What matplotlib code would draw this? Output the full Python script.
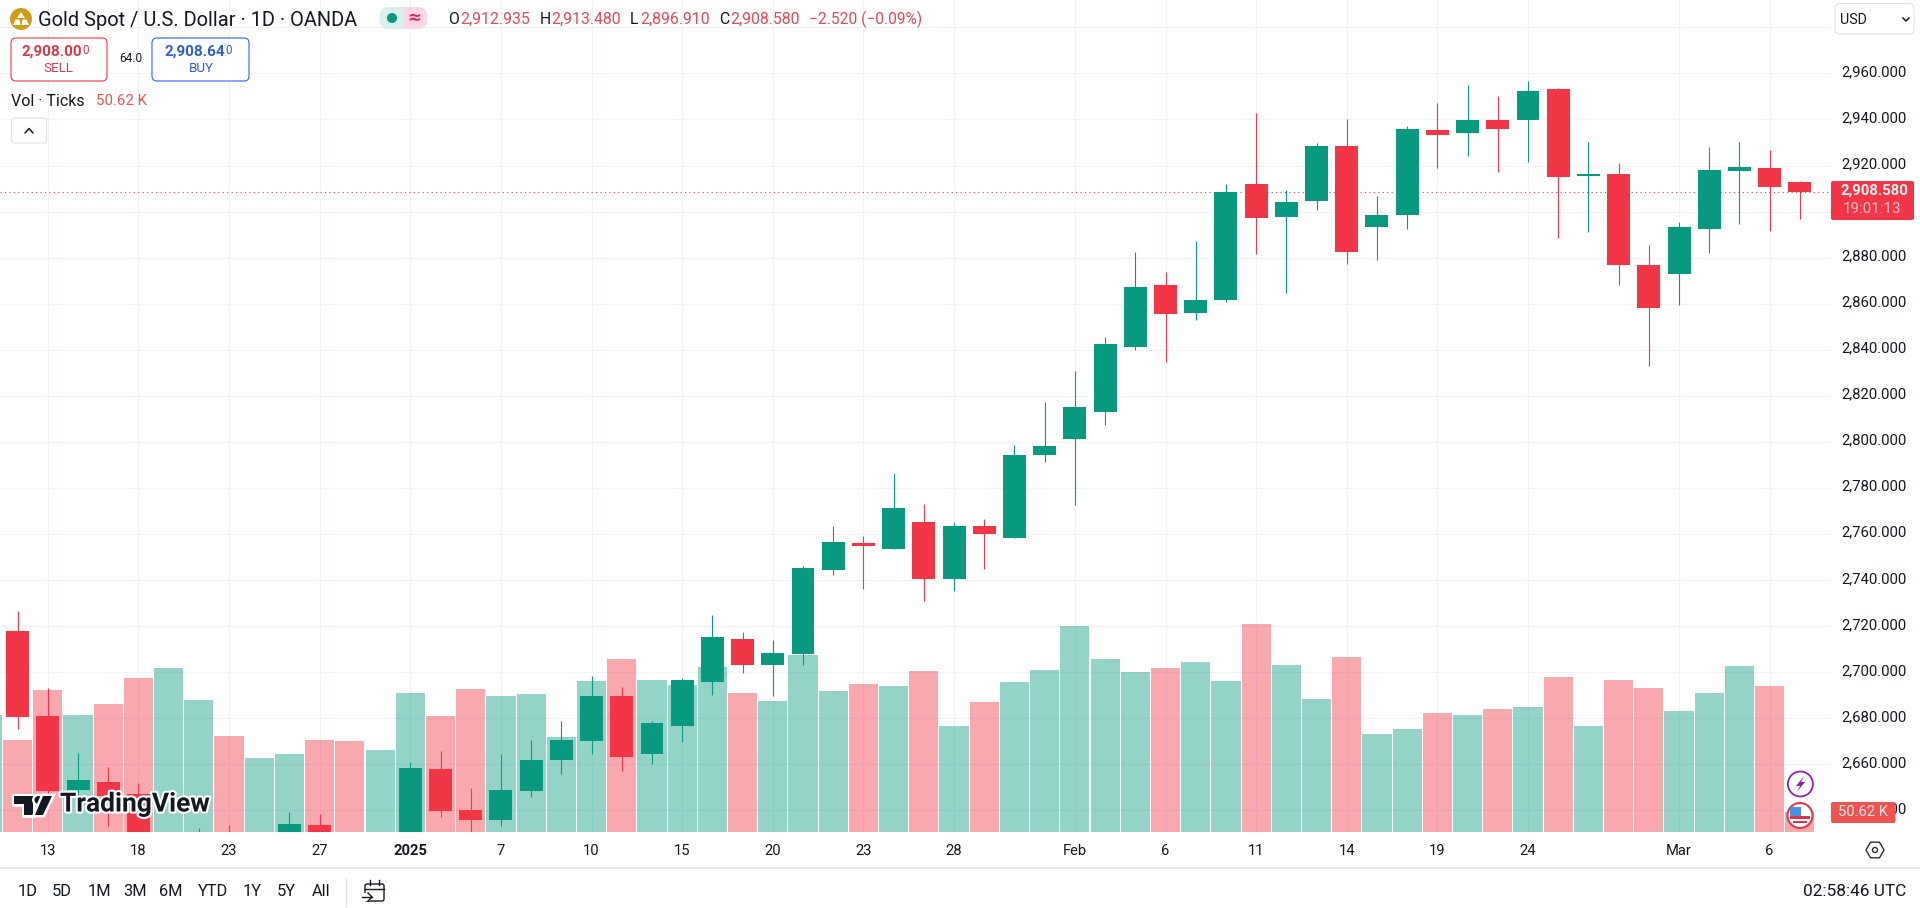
import math
import matplotlib
matplotlib.use("Agg")
import matplotlib.pyplot as plt
from matplotlib.patches import FancyBboxPatch, Circle, Rectangle, Polygon, RegularPolygon
from matplotlib.transforms import ScaledTranslation
import matplotlib.patheffects as pe

plt.rcParams['font.family'] = ['Roboto', 'DejaVu Sans']

# ---- data ----
opens = [2717.8,2680.8,2648.7,2652.1,2647,2622,2626,2628,2612,2622,2633.5,2622,2612,2615,2657.8,2640,2635.7,2648.3,2661.7,2670,
         2689.5,2664.3,2676.5,2695.6,2714.3,2703,2707.8,2744.3,2756.1,2753.4,2765.1,2740.4,2763.4,2758.2,2794.2,2801.2,2812.9,2841.1,2868.1,2855.9,
         2861.6,2911.9,2897.6,2904.5,2928.5,2893.3,2898.5,2935.4,2934.1,2939.8,2939.8,2953.2,2915.4,2916.3,2876.8,2872.9,2892.4,2917.6,2918.9,2912.935]
highs = [2726.5,2693,2664.8,2658.7,2651.8,2630,2632.2,2633.5,2626,2639.1,2638.3,2628,2626,2660.9,2665.6,2649.6,2664.3,2670.4,2678.7,2698.2,
         2693.4,2678.7,2697.4,2724.7,2717.4,2713.9,2746,2763.4,2759.1,2786.4,2773,2765.1,2766.4,2798.6,2817.3,2830.7,2845.5,2882.4,2873.7,2887.2,
         2911.9,2942.8,2909.3,2929.8,2940.2,2906.7,2937.2,2947.1,2955,2950.2,2956.7,2953.7,2930.2,2921.1,2885.5,2895.5,2928,2930.2,2926.7,2913.48]
lows = [2675.2,2645.7,2645.2,2633,2615,2615,2620,2618,2610,2618,2618,2612,2610,2610,2637,2628,2633,2645.7,2655.7,2664.3,
        2657,2660,2669.6,2690,2699.6,2689.5,2703,2742.1,2736,2753.4,2730.8,2735.2,2744.7,2758.2,2791.2,2772.5,2807.2,2839.8,2834.6,2852.9,
        2860.7,2881.5,2864.6,2900.6,2877.2,2879,2892.4,2918.9,2924.1,2917.2,2921.5,2888.5,2891.1,2868.1,2832.9,2859.4,2882,2894.6,2891.6,2896.91]
closes = [2680.4,2648.3,2653,2646,2622,2627,2629,2622,2621,2634,2622,2617,2620,2658.3,2639.6,2635.7,2648.7,2661.7,2670.4,2689.5,
          2663.1,2677.8,2696.5,2715.2,2703,2708.2,2745.2,2756.5,2754.7,2771.2,2740.4,2763.4,2759.9,2794.2,2798.1,2815.1,2842.5,2867.2,2855.5,2861.6,
          2908.5,2897.2,2904.2,2928.5,2882.4,2898.5,2935.8,2933.2,2939.8,2935.8,2952.4,2915,2916.3,2876.8,2858.1,2893.3,2918,2919.4,2910.6,2908.58]
# volume in thousands of ticks, first bar sits one slot left of the first candle
volumes = [300,236,364,300,328,395,421,339,246,189,200,236,233,210,357,297,367,349,354,243,387,
           446,390,377,423,357,336,454,362,380,375,413,272,333,385,416,529,446,411,421,436,387,
           534,429,341,449,251,264,305,300,315,321,398,272,390,369,310,357,426,375,50.62]
vol_dirs = "u d d u d d u u d u u d d u u d d u u u u d u u u d u u u d u d u d u u u u u d u u d u u d u u d u d u d u d d u u u d d".split()
price_ticks = [2640,2660,2680,2700,2720,2740,2760,2780,2800,2820,2840,2860,2880,2900,2920,2940,2960,2980]
time_slots = [1,4,7,10,13,16,19,22,25,28,31,35,38,41,44,47,50,55,58]
time_labels = ['13','18','23','27','2025','7','10','15','20','23','28','Feb','6','11','14','19','24','Mar','6']
last_close = 2908.58

UP, DOWN = '#089981', '#F23645'
TXT = '#131722'
W, H = 1920, 908
PANE_R, PANE_B = 1831, 832

fig = plt.figure(figsize=(W/100, H/100), dpi=100, facecolor='white')
rect = [0, (H-PANE_B)/H, PANE_R/W, PANE_B/H]

# base axes: grid and axis labels
ax = fig.add_axes(rect, zorder=1)
ax.set_xlim(-0.583, 60.03)
ax.set_ylim(2630.5, 2991.9)
ax.yaxis.tick_right()
ax.set_yticks(price_ticks)
ax.set_yticklabels([f'{v:,.3f}' for v in price_ticks])
ax.set_xticks(time_slots)
ax.set_xticklabels(time_labels)
ax.tick_params(axis='y', length=0, pad=7.5, labelsize=10.7, labelcolor=TXT)
ax.tick_params(axis='x', length=0, pad=8.5, labelsize=10.6, labelcolor=TXT)
for t in ax.get_xticklabels():
    if t.get_text() == '2025':
        t.set_fontweight('bold')
ax.grid(True, color='#F0F3FA', lw=0.75)
ax.set_axisbelow(True)
for s in ax.spines.values():
    s.set_visible(False)
for t in ax.get_yticklabels():
    if t.get_text() == '2,980.000':
        t.set_visible(False)
    t.set_transform(t.get_transform() + ScaledTranslation(0, 2.6/72*0.72, fig.dpi_scale_trans))

# volume pane
vax = fig.add_axes(rect, zorder=2)
vax.patch.set_alpha(0)
vax.set_xlim(ax.get_xlim())
vax.set_ylim(0, 2139)
vax.axis('off')
vol_x = list(range(-1, len(volumes)-1))
vax.bar(vol_x, volumes, width=0.965,
        color=[UP if d == 'u' else DOWN for d in vol_dirs], alpha=0.43, lw=0)

# candles
cax = fig.add_axes(rect, zorder=3, sharex=ax, sharey=ax)
cax.patch.set_alpha(0)
cax.axis('off')
cx = list(range(len(opens)))
colors = [UP if c >= o else DOWN for o, c in zip(opens, closes)]
cax.axhline(last_close, color=DOWN, lw=0.8, ls=(0, (1, 3)), zorder=1)
cax.vlines(cx, lows, highs, colors=colors, lw=0.8, zorder=2)
cax.bar(cx, [abs(c-o) for o, c in zip(opens, closes)], bottom=[min(o, c) for o, c in zip(opens, closes)],
        width=0.76, color=colors, lw=0, zorder=3)

# interface furniture in pixel coordinates
ui = fig.add_axes([0, 0, 1, 1], zorder=10)
ui.patch.set_alpha(0)
ui.set_xlim(0, W); ui.set_ylim(H, 0); ui.axis('off')

def txt(x, y, s, size=10.6, color=TXT, ha='left', va='center', **kw):
    return ui.text(x, y, s, fontsize=size, color=color, ha=ha, va=va, **kw)

def box(x0, y0, x1, y1, fc='white', ec='none', lw=1, r=4, z=2):
    ui.add_patch(FancyBboxPatch((x0+r, y0+r), x1-x0-2*r, y1-y0-2*r, boxstyle=f'round,pad={r},rounding_size={r}',
                                fc=fc, ec=ec, lw=lw, zorder=z))

ui.plot([0, W], [867.5, 867.5], color='#E0E3EB', lw=1.1)

# header
ui.add_patch(Circle((21, 19), 11, fc='#D29D12', ec='none'))
ui.add_patch(Polygon([[21,12],[25,18],[17,18]], fc='white', ec='none'))
ui.add_patch(Polygon([[15.5,19.5],[19.5,19.5],[20.5,25],[13,25]], fc='white', ec='none'))
ui.add_patch(Polygon([[22.5,19.5],[26.5,19.5],[29,25],[21.5,25]], fc='white', ec='none'))
txt(38, 20, 'Gold Spot / U.S. Dollar · 1D · OANDA', size=14.4)
box(379.5, 7, 427, 29, fc='#D9F1EE', r=9)
box(403, 7, 427, 29, fc='#FFD6E4', r=9, z=3)
ui.add_patch(Rectangle((403, 7), 12, 22, fc='#FFD6E4', ec='none', zorder=3))
ui.add_patch(Circle((392, 18), 5, fc=UP, ec='none', zorder=4))
txt(414, 18, '≈', size=12, color='#E0245E', ha='center', fontweight='bold', zorder=4, family=['DejaVu Sans'])
ohlc_red = '#E04A5A'
for (xl, lab, xv, val) in [(448, 'O', 460.5, '2,912.935'), (539.5, 'H', 551, '2,913.480'),
                           (630, 'L', 640, '2,896.910'), (719, 'C', 730, '2,908.580')]:
    txt(xl, 19.5, lab, size=11.4)
    txt(xv, 19.5, val, size=11.4, color=ohlc_red)
txt(809, 19.5, '−2.520 (−0.09%)', size=11.2, color=ohlc_red)

# trade buttons
box(11, 38, 107, 81, ec=DOWN, lw=0.8, r=5)
box(152, 38, 249, 81, ec='#2962FF', lw=0.8, r=5)
txt(52, 52, '2,908.00', size=11, color='#D8394A', ha='center', fontweight='bold')
txt(82, 50.5, '0', size=8.5, color='#D8394A')
txt(58, 69, 'SELL', size=9.6, color='#D8394A', ha='center')
txt(130.5, 59, '64.0', size=8.6, ha='center')
txt(195, 52, '2,908.64', size=11, color='#2F5FD0', ha='center', fontweight='bold')
txt(225, 50.5, '0', size=8.5, color='#2F5FD0')
txt(201, 69, 'BUY', size=9.6, color='#2F5FD0', ha='center')

# volume legend
txt(11, 101, 'Vol · Ticks', size=11.5)
txt(95.5, 101, '50.62 K', size=10.8, color='#EF5350')
box(11.5, 118, 46.5, 143, ec='#E0E3EB', lw=0.8, r=3)
ui.plot([25, 29, 33], [133, 128.5, 133], color=TXT, lw=1.1, solid_capstyle='round')

# logo
halo = [pe.withStroke(linewidth=3.5, foreground='white')]
for p in [Polygon([[14,796],[33,796],[33,815],[24,815],[24,804],[14,804]], fc='#131722', ec='none', zorder=6),
          Circle((38.5, 800), 4, fc='#131722', ec='none', zorder=6),
          Polygon([[43,796],[52,796],[43,815],[35,815]], fc='#131722', ec='none', zorder=6)]:
    p.set_path_effects(halo)
    ui.add_patch(p)
txt(60, 804.5, 'TradingView', size=19, color='#131722', fontweight='bold', zorder=6,
    path_effects=[pe.withStroke(linewidth=3, foreground='white')])

# right scale widgets
box(1835, 3.5, 1914, 34, ec='#E0E3EB', lw=0.8, r=5)
txt(1840, 20, 'USD', size=10.3)
ui.plot([1903, 1906, 1909], [18, 21, 18], color=TXT, lw=1.1)
box(1831, 181, 1914, 220, fc=DOWN, r=2, z=5)
txt(1874.5, 191, '2,908.580', size=10.7, color='#FFF2F3', ha='center', fontweight='bold', zorder=6)
txt(1872.5, 209, '19:01:13', size=10.9, color='#FBC4C9', ha='center', zorder=6)
box(1831, 802, 1895.5, 823, fc='#EF5350', r=2, z=5)
txt(1863, 812.5, '50.62 K', size=10.6, color='#FFE9E9', ha='center', zorder=6)
ui.add_patch(RegularPolygon((1875, 850), 6, radius=9, orientation=math.pi/6, fc='white', ec='#2A2E39', lw=1))
ui.add_patch(Circle((1875, 850), 2.5, fc='white', ec='#2A2E39', lw=1, zorder=3))

# event icons
ui.add_patch(Circle((1800.4, 784), 12.5, fc='white', ec='#8E24AA', lw=1.3, zorder=6))
ui.add_patch(Polygon([[1804,776],[1796,786],[1800,786],[1797,792],[1805,782],[1801,782]], fc='#8E24AA', ec='none', zorder=7))
ui.add_patch(Circle((1800, 815.5), 12.5, fc='white', ec='#E0364C', lw=1.5, zorder=6))
ui.add_patch(Rectangle((1790, 807), 11, 9, fc='#4A90E2', ec='none', zorder=7))
ui.add_patch(Rectangle((1790, 816), 20, 3, fc='#E0364C', ec='none', zorder=7))
ui.add_patch(Rectangle((1793, 821), 14, 2, fc='#E0364C', ec='none', zorder=7))

# range row
for x, s in [(28, '1D'), (62, '5D'), (99, '1M'), (135, '3M'), (171, '6M'), (213, 'YTD'), (252, '1Y'), (286, '5Y'), (321, 'All')]:
    txt(x, 891.5, s, size=11.8, ha='center')
ui.plot([345.5, 345.5], [879, 906], color='#E0E3EB', lw=1)
ui.add_patch(FancyBboxPatch((365, 884), 19, 17, boxstyle='round,pad=0,rounding_size=2', fc='none', ec=TXT, lw=1))
ui.add_patch(Rectangle((362, 893), 8, 8, fc='white', ec='none', zorder=3))
ui.plot([365, 384], [888.5, 888.5], color=TXT, lw=1, zorder=4)
ui.plot([370, 370], [880, 885], color=TXT, lw=1, zorder=4)
ui.plot([379, 379], [880, 885], color=TXT, lw=1, zorder=4)
ui.plot([362, 372], [897, 897], color=TXT, lw=1, zorder=4)
ui.plot([368, 372, 368], [893, 897, 901], color=TXT, lw=1, zorder=4)
txt(1906.5, 891.5, '02:58:46 UTC', size=12.4, ha='right')

fig.savefig('out.png', dpi=100)
